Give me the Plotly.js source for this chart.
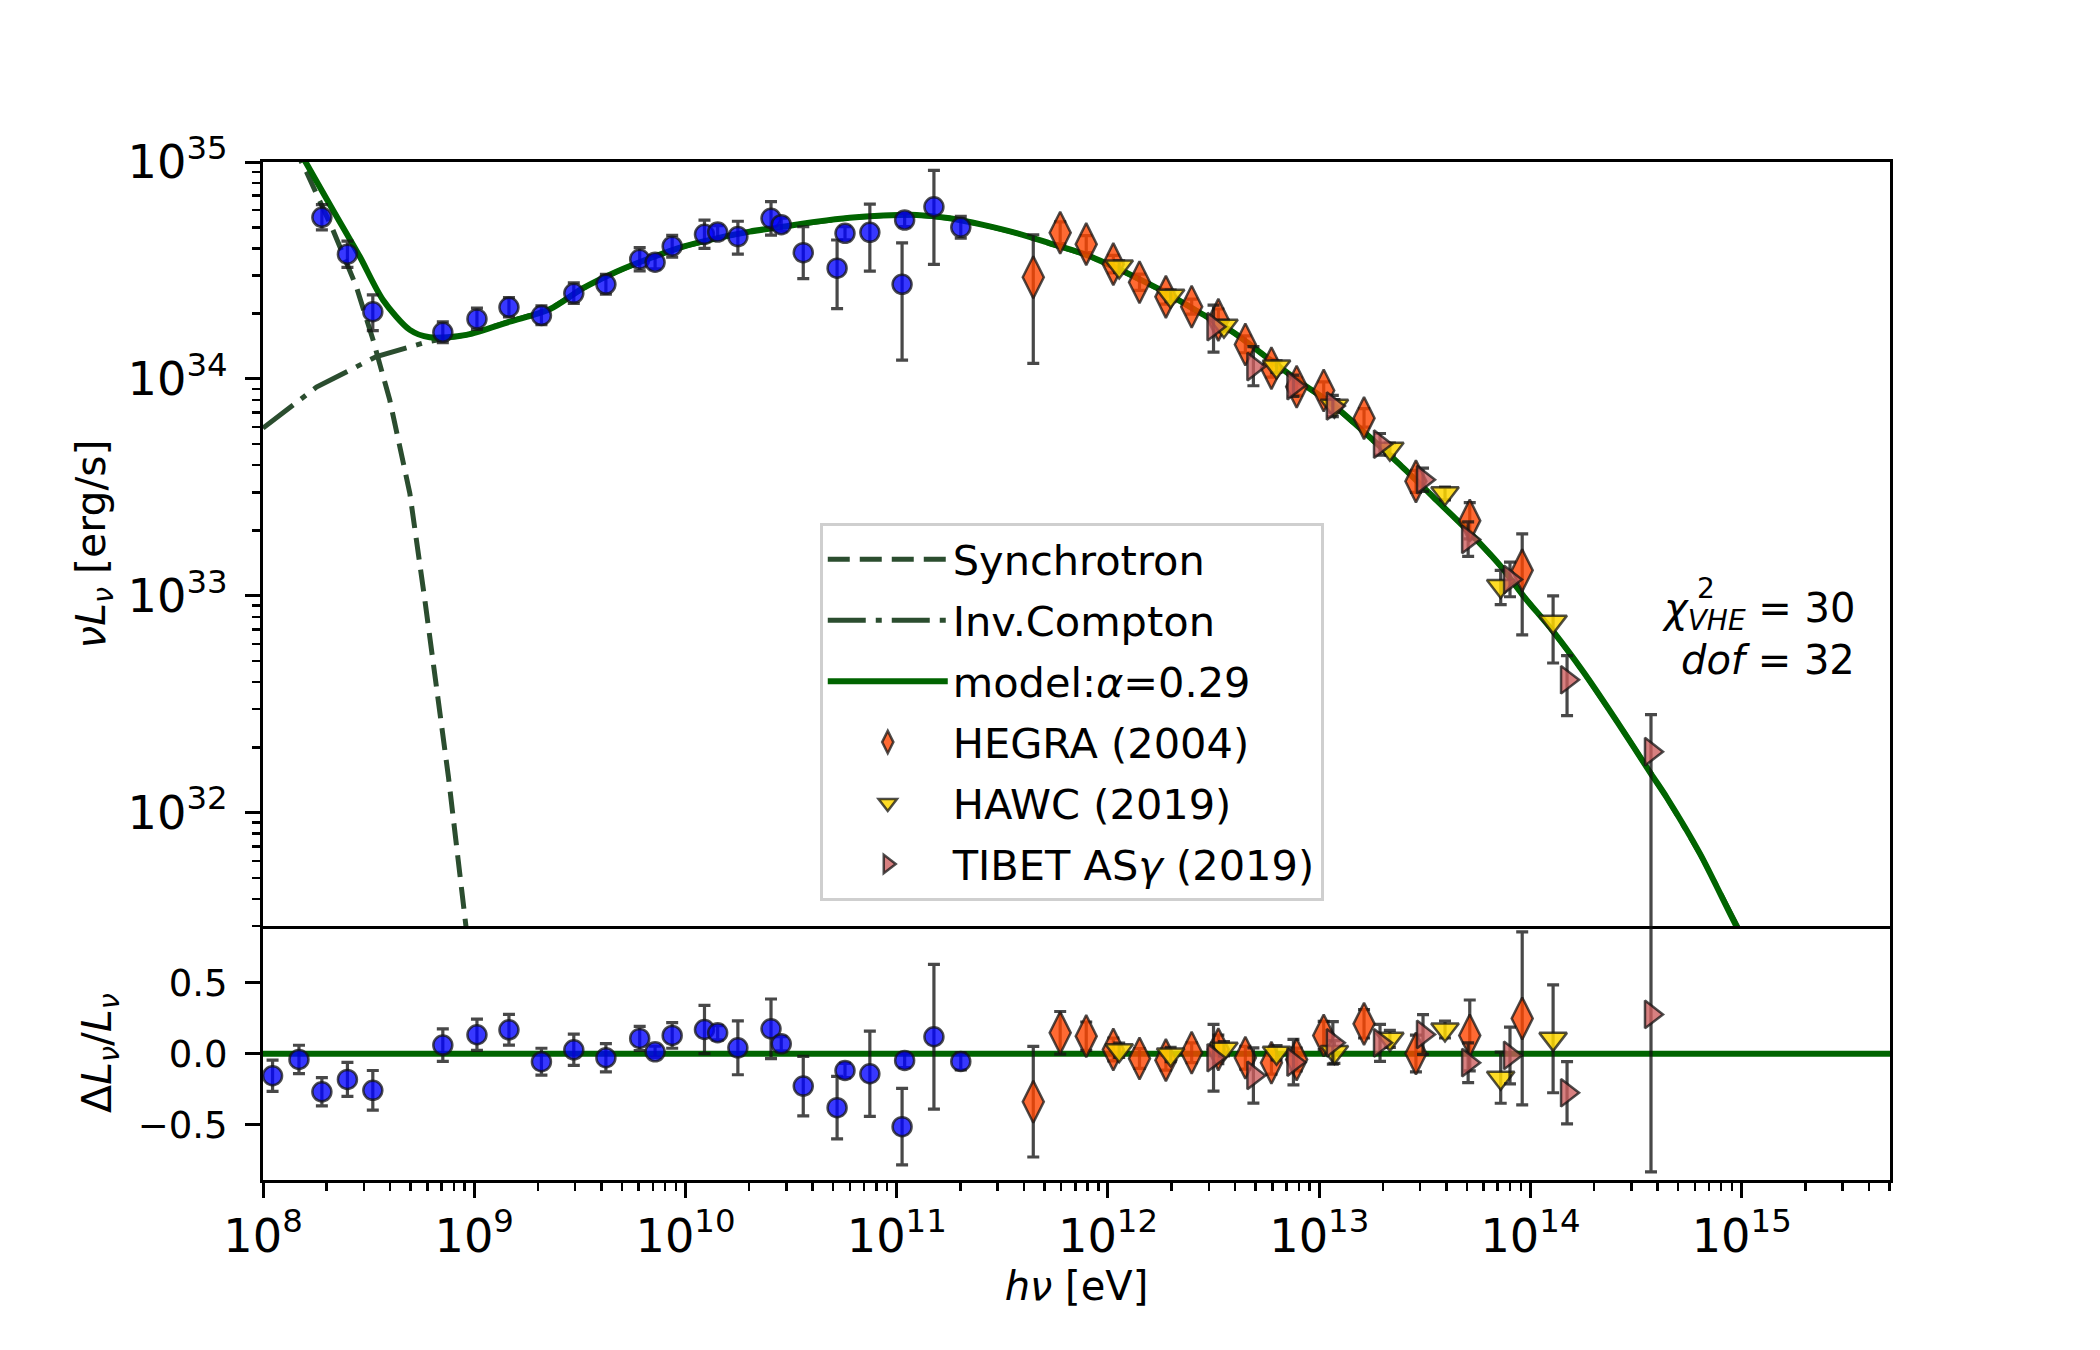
<!DOCTYPE html>
<html><head><meta charset="utf-8">
<script src="https://cdn.plot.ly/plotly-3.0.1.min.js"></script>
<style>body{margin:0;background:#fff}</style>
</head><body>
<div id="chart" style="width:2100px;height:1350px"></div>
<script>
// ---------- data ----------
// Fermi-like points (blue); first two are above the plotted range in the upper panel
const fermiE = [1.11e8,1.48e8,1.90e8,2.51e8,3.31e8,7.1e8,1.03e9,1.46e9,2.08e9,2.96e9,4.2e9,6.07e9,7.18e9,8.65e9,1.23e10,1.42e10,1.77e10,2.54e10,2.84e10,3.61e10,5.22e10,5.69e10,7.46e10,1.06e11,1.09e11,1.50e11,2.01e11];
const fermiL = [null,null,5.56e34,3.76e34,2.04e34,1.64e34,1.89e34,2.14e34,1.96e34,2.48e34,2.73e34,3.56e34,3.45e34,4.09e34,4.64e34,4.75e34,4.53e34,5.5e34,5.14e34,3.82e34,3.24e34,4.69e34,4.74e34,2.73e34,5.4e34,6.22e34,5.0e34];
const fermiLup = [null,null,0.8e34,0.56e34,0.40e34,0.19e34,0.23e34,0.23e34,0.21e34,0.29e34,0.30e34,0.47e34,0.25e34,0.50e34,0.75e34,0.34e34,0.80e34,1.07e34,0.37e34,1.21e34,1.13e34,0.34e34,1.65e34,1.51e34,0.39e34,2.92e34,0.61e34];
const fermiLdn = [null,null,0.7e34,0.49e34,0.37e34,0.17e34,0.20e34,0.21e34,0.18e34,0.25e34,0.27e34,0.41e34,0.23e34,0.45e34,0.64e34,0.32e34,0.77e34,0.90e34,0.34e34,0.92e34,1.13e34,0.31e34,1.60e34,1.51e34,0.36e34,2.85e34,0.54e34];
const fermiRes = [-0.155,-0.04,-0.268,-0.181,-0.258,0.061,0.134,0.169,-0.056,0.028,-0.028,0.108,0.014,0.129,0.171,0.148,0.042,0.176,0.07,-0.228,-0.38,-0.118,-0.141,-0.514,-0.047,0.12,-0.054];
const fermiResErr = [0.11,0.1,0.1,0.12,0.14,0.115,0.11,0.108,0.095,0.11,0.1,0.085,0.04,0.09,0.17,0.05,0.19,0.21,0.05,0.21,0.22,0.05,0.3,0.27,0.05,0.51,0.06];

const hegraE = [4.43e11,5.94e11,7.89e11,1.06e12,1.41e12,1.88e12,2.49e12,3.33e12,4.47e12,5.94e12,7.82e12,1.05e13,1.63e13,2.87e13,5.16e13,9.14e13];
const hegraL = [2.94e34,4.72e34,4.18e34,3.38e34,2.79e34,2.39e34,2.15e34,1.87e34,1.44e34,1.12e34,9.2e33,8.84e33,6.59e33,3.37e33,2.22e33,1.31e33];
const hegraLup = [1.68e34,0.58e34,0.40e34,0.33e34,0.25e34,0.20e34,0.18e34,0.23e34,0.14e34,0.11e34,0.9e33,0.85e33,0.7e33,0.42e33,0.47e33,0.62e33];
const hegraLdn = [1.76e34,0.51e34,0.36e34,0.30e34,0.23e34,0.18e34,0.16e34,0.20e34,0.12e34,0.10e34,0.8e33,0.77e33,0.6e33,0.37e33,0.39e33,0.65e33];
const hegraRes = [-0.338,0.148,0.124,0.03,-0.033,-0.045,0.007,0.031,-0.028,-0.063,-0.04,0.129,0.211,0.002,0.129,0.249];
const hegraResErr = [0.39,0.15,0.1,0.08,0.07,0.07,0.07,0.1,0.08,0.08,0.08,0.1,0.1,0.13,0.25,0.61];

const hawcE = [1.13e12,1.98e12,3.54e12,6.28e12,1.18e13,2.16e13,3.94e13,7.23e13,1.28e14];
const hawcL = [3.3e34,2.42e34,1.76e34,1.14e34,7.52e33,4.76e33,2.97e33,1.11e33,7.6e32];
const hawcLup = [0.2e34,0.15e34,0.1e34,0.07e34,0.5e33,0.3e33,0.2e33,0.2e33,2.4e32];
const hawcLdn = [0.2e34,0.15e34,0.1e34,0.07e34,0.5e33,0.3e33,0.2e33,0.2e33,2.7e32];
const hawcRes = [0.025,-0.005,0.035,0.007,0.012,0.105,0.171,-0.169,0.105];
const hawcResErr = [0.05,0.05,0.05,0.05,0.08,0.06,0.06,0.18,0.38];

const tibetE = [3.16e12,4.88e12,7.55e12,1.16e13,1.94e13,3.10e13,5.07e13,8.0e13,1.49e14,3.72e14];
const tibetL = [1.74e34,1.14e34,9.3e33,7.5e33,5.0e33,3.43e33,1.82e33,1.19e33,4.1e32,1.91e32];
const tibetLup = [0.45e34,0.27e34,1.1e33,0.9e33,0.6e33,0.45e33,0.37e33,0.24e33,1.2e32,0.92e32];
const tibetLdn = [0.41e34,0.21e34,1.0e33,0.8e33,0.55e33,0.4e33,0.3e33,0.2e33,1.3e32,1.87e32];
const tibetRes = [-0.028,-0.153,-0.059,0.077,0.077,0.136,-0.063,-0.012,-0.275,0.277];
const tibetResUp = [0.235,0.195,0.16,0.15,0.13,0.14,0.14,0.2,0.22,1.5];
const tibetResDn = [0.235,0.195,0.16,0.15,0.13,0.14,0.14,0.2,0.22,1.11];

// model curves, read as log10 values
const modelLogE = [8.0,8.1,8.205,8.331,8.458,8.568,8.695,8.789,8.963,9.168,9.357,9.515,9.673,9.831,9.989,10.147,10.304,10.462,10.620,10.777,10.936,11.094,11.251,11.409,11.567,11.725,11.897,12.025,12.148,12.273,12.435,12.593,12.751,12.909,13.066,13.224,13.382,13.540,13.698,13.856,13.966,14.108,14.250,14.410,14.570,14.645,14.803,14.968,15.1];
const modelLogL = [35.36,35.17,34.994,34.779,34.564,34.364,34.226,34.192,34.203,34.264,34.321,34.418,34.494,34.556,34.610,34.648,34.679,34.702,34.725,34.743,34.753,34.756,34.741,34.710,34.672,34.625,34.572,34.518,34.460,34.398,34.305,34.215,34.100,33.985,33.880,33.745,33.605,33.455,33.305,33.14,33.00,32.835,32.650,32.42,32.18,32.07,31.81,31.49,31.25];
const synLogE = [8.0,8.2055,8.331,8.442,8.521,8.600,8.695,8.766,8.878,8.96,9.0];
const synLogL = [35.35,34.955,34.687,34.425,34.18,33.903,33.473,32.982,32.164,31.484,31.15];
const icLogE = [8.0,8.253,8.537,8.781];
const icLogL = [33.773,33.962,34.103,34.172];

const resTickVals = [-0.5,0,0.5];
const resTickText = ['−0.5','0.0','0.5'];

// ---------- build ----------
const p10 = v => Math.pow(10, v);
const icStart = modelLogE.indexOf(8.963);
const icE = icLogE.concat(modelLogE.slice(icStart)).map(p10);
const icL = icLogL.concat(modelLogL.slice(icStart)).map(p10);

const FONT = 'DejaVu Sans, sans-serif';
const errStyle = {color:'rgba(20,20,20,0.78)', thickness:3.2, width:6};
const mline = {color:'rgba(20,20,20,0.75)', width:2.5};

const cBlue = 'rgba(0,0,255,0.78)';
const cHegra = 'rgba(255,69,0,0.8)';
const cHawc = 'rgba(255,215,0,0.85)';
const cTibet = 'rgba(205,92,92,0.78)';

const traces = [
  {x: synLogE.map(p10), y: synLogL.map(p10), mode:'lines', name:'Synchrotron', legendgroup:'a',
   line:{color:'#2b4d2f', width:5, dash:'22px,10px'}, xaxis:'x', yaxis:'y'},
  {x: icE, y: icL, mode:'lines', name:'Inv.Compton', legendgroup:'b',
   line:{color:'#2b4d2f', width:5, dash:'38px,10px,6px,10px'}, xaxis:'x', yaxis:'y'},
  {x: modelLogE.map(p10), y: modelLogL.map(p10), mode:'lines', name:'model:<i>α</i>=0.29', legendgroup:'c',
   line:{color:'#006400', width:6, shape:'spline', smoothing:0.8}, xaxis:'x', yaxis:'y'},
  {x: fermiE, y: fermiL, mode:'markers', showlegend:false,
   error_y:Object.assign({type:'data', symmetric:false, array:fermiLup, arrayminus:fermiLdn}, errStyle),
   marker:{symbol:'circle', size:19, color:cBlue, line:mline}, xaxis:'x', yaxis:'y'},
  {x: hegraE, y: hegraL, mode:'markers', name:'HEGRA (2004)', legendgroup:'d',
   error_y:Object.assign({type:'data', symmetric:false, array:hegraLup, arrayminus:hegraLdn}, errStyle),
   marker:{symbol:'diamond-tall', size:30, color:cHegra, line:mline}, xaxis:'x', yaxis:'y'},
  {x: hawcE, y: hawcL, mode:'markers', name:'HAWC (2019)', legendgroup:'e',
   error_y:Object.assign({type:'data', symmetric:false, array:hawcLup, arrayminus:hawcLdn}, errStyle),
   marker:{symbol:'triangle-down', size:24, color:cHawc, line:mline}, xaxis:'x', yaxis:'y'},
  {x: tibetE, y: tibetL, mode:'markers', name:'TIBET AS<i>γ</i> (2019)', legendgroup:'f',
   error_y:Object.assign({type:'data', symmetric:false, array:tibetLup, arrayminus:tibetLdn}, errStyle),
   marker:{symbol:'triangle-right', size:24, color:cTibet, line:mline}, xaxis:'x', yaxis:'y'},
  // residual panel
  {x:[p10(8), p10(15.702)], y:[0,0], mode:'lines', showlegend:false,
   line:{color:'#006400', width:6}, xaxis:'x2', yaxis:'y2'},
  {x: fermiE, y: fermiRes, mode:'markers', showlegend:false,
   error_y:Object.assign({type:'data', array:fermiResErr}, errStyle),
   marker:{symbol:'circle', size:19, color:cBlue, line:mline}, xaxis:'x2', yaxis:'y2'},
  {x: hegraE, y: hegraRes, mode:'markers', showlegend:false,
   error_y:Object.assign({type:'data', array:hegraResErr}, errStyle),
   marker:{symbol:'diamond-tall', size:30, color:cHegra, line:mline}, xaxis:'x2', yaxis:'y2'},
  {x: hawcE, y: hawcRes, mode:'markers', showlegend:false,
   error_y:Object.assign({type:'data', array:hawcResErr}, errStyle),
   marker:{symbol:'triangle-down', size:24, color:cHawc, line:mline}, xaxis:'x2', yaxis:'y2'},
  {x: tibetE, y: tibetRes, mode:'markers', showlegend:false,
   error_y:Object.assign({type:'data', symmetric:false, array:tibetResUp, arrayminus:tibetResDn}, errStyle),
   marker:{symbol:'triangle-right', size:24, color:cTibet, line:mline}, xaxis:'x2', yaxis:'y2'}
];

const axBase = {showline:true, linecolor:'black', linewidth:3, zeroline:false, showgrid:false};
const tickFont = {family:FONT, size:37, color:'black'};
const split = 0.2494;

const layout = {
  width:2100, height:1350,
  margin:{l:263, r:210, t:162, b:170},
  paper_bgcolor:'white', plot_bgcolor:'white',
  font:{family:FONT, size:40, color:'black'},
  showlegend:true,
  legend:{x:0.3422, y:0.6456, xanchor:'left', yanchor:'top',
    bgcolor:'rgba(255,255,255,0.85)', bordercolor:'#cfcfcf', borderwidth:3,
    font:{family:FONT, size:41.5, color:'black'}, tracegroupgap:4, itemwidth:120, traceorder:'grouped'},
  xaxis: Object.assign({type:'log', range:[8, 15.702], domain:[0,1], anchor:'y', mirror:true,
    showticklabels:false, ticks:'', matches:'x2'}, axBase),
  yaxis: Object.assign({type:'log', range:[31.477, 35], domain:[split,1], anchor:'x', mirror:true,
    dtick:1, ticks:'outside', ticklen:15, tickwidth:3, tickcolor:'black',
    exponentformat:'power', tickfont:tickFont, ticklabelstandoff:10,
    minor:{ticks:'outside', ticklen:8, tickwidth:2.5, tickcolor:'black', dtick:'D1'},
    title:{text:'<i>νL</i><sub><i>ν</i></sub> [erg/s]', font:{family:FONT, size:41, color:'black'}, standoff:10}}, axBase),
  xaxis2: Object.assign({type:'log', range:[8, 15.702], domain:[0,1], anchor:'y2', mirror:false,
    dtick:1, ticks:'outside', ticklen:15, tickwidth:3, tickcolor:'black',
    exponentformat:'power', tickfont:tickFont, ticklabelstandoff:0,
    minor:{ticks:'outside', ticklen:8, tickwidth:2.5, tickcolor:'black', dtick:'D1'},
    title:{text:'<i>hν</i> [eV]', font:{family:FONT, size:40, color:'black'}, standoff:10}}, axBase),
  yaxis2: Object.assign({range:[-0.89, 0.9], domain:[0,split], anchor:'x2', mirror:true,
    tickmode:'array', tickvals:resTickVals, ticktext:resTickText,
    ticks:'outside', ticklen:15, tickwidth:3, tickcolor:'black', tickfont:tickFont, ticklabelstandoff:10,
    title:{text:'Δ<i>L</i><sub><i>ν</i></sub>/<i>L</i><sub><i>ν</i></sub>', font:{family:FONT, size:41, color:'black'}, standoff:14}}, axBase),
  annotations:[
    {xref:'paper', yref:'paper', x:0.9797, y:0.559, xanchor:'right', yanchor:'middle', showarrow:false,
     text:'<i>χ</i><sub><i>VHE</i></sub> = 30', font:{family:FONT, size:40, color:'black'}},
    {xref:'paper', yref:'paper', x:0.887, y:0.581, xanchor:'center', yanchor:'middle', showarrow:false,
     text:'2', font:{family:FONT, size:28, color:'black'}},
    {xref:'paper', yref:'paper', x:0.9797, y:0.511, xanchor:'right', yanchor:'middle', showarrow:false,
     text:'<i>dof</i> = 32', font:{family:FONT, size:40, color:'black'}}
  ]
};

Plotly.newPlot('chart', traces, layout, {staticPlot:true, displayModeBar:false});
</script>
</body></html>
